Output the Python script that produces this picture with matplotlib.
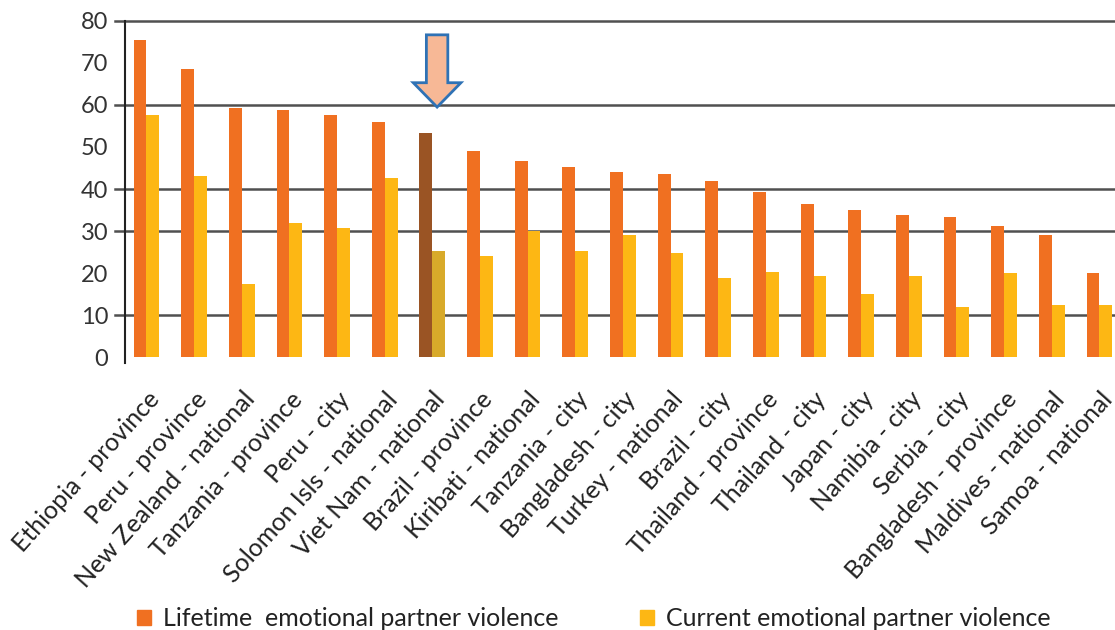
import matplotlib
matplotlib.use("Agg")
import matplotlib.pyplot as plt
import matplotlib.patches as mpatches
import numpy as np

# data
categories = [
    "Ethiopia - province", "Peru - province", "New Zealand - national",
    "Tanzania - province", "Peru - city", "Solomon Isls - national",
    "Viet Nam - national", "Brazil - province", "Kiribati - national",
    "Tanzania - city", "Bangladesh - city", "Turkey - national",
    "Brazil - city", "Thailand - province", "Thailand - city",
    "Japan - city", "Namibia - city", "Serbia - city",
    "Bangladesh - province", "Maldives - national", "Samoa - national",
]
lifetime = [75.4, 68.5, 59.2, 58.8, 57.7, 55.9, 53.3, 49.0, 46.7, 45.3, 44.1,
            43.5, 41.9, 39.2, 36.5, 34.9, 33.7, 33.3, 31.1, 29.0, 19.9]
current = [57.7, 43.2, 17.5, 31.8, 30.7, 42.6, 25.3, 24.1, 30.1, 25.3, 29.0,
           24.8, 18.9, 20.3, 19.3, 14.9, 19.3, 11.8, 19.9, 12.3, 12.3]
series_names = ["Lifetime  emotional partner violence",
                "Current emotional partner violence"]
highlight = "Viet Nam - national"
yticks = [0, 10, 20, 30, 40, 50, 60, 70, 80]
grid_levels = [10, 30, 40, 60, 80]   # only these lines show in the picture
arrow_top, arrow_tip = 76.7, 59.5

ORANGE = '#f07021'
YELLOW = '#fdb714'
ORANGE_HI = '#9a5424'
YELLOW_HI = '#d8aa2a'

plt.rcParams['font.family'] = ['Lato', 'DejaVu Sans']

fig = plt.figure(figsize=(11.15, 6.3), dpi=100)
ax = fig.add_axes([0.1121, 0.4333, 0.8953, 0.5334])

x = np.arange(len(categories))
w = 0.27
hi = categories.index(highlight)
c1 = [ORANGE_HI if i == hi else ORANGE for i in x]
c2 = [YELLOW_HI if i == hi else YELLOW for i in x]

for lvl in grid_levels:
    ax.plot([-0.67, len(categories) + 1], [lvl, lvl], color='#505050',
            lw=1.8, clip_on=False, zorder=1)

ax.bar(x - w / 2, lifetime, w, color=c1, zorder=2)
ax.bar(x + w / 2, current, w, color=c2, zorder=2)

# arrow pointing at Viet Nam
arr = mpatches.FancyArrow(hi + 0.1, arrow_top, 0, arrow_tip - arrow_top,
                          width=0.45, head_width=1.0, head_length=5.8,
                          length_includes_head=True, fc='#f7b896',
                          ec='#2f72b5', lw=2, zorder=4, clip_on=False)
ax.add_patch(arr)

ax.set_xlim(-0.45, len(categories) - 0.5)
ax.set_ylim(0, 80)
ax.set_yticks(yticks)
ax.set_yticklabels([str(v) for v in yticks], fontsize=17, color='#333333')
ax.tick_params(axis='y', length=0, pad=12)
ax.tick_params(axis='x', length=0, pad=22)
ax.set_xticks(x)
ax.set_xticklabels(categories, rotation=48, ha='right', va='top',
                   rotation_mode='anchor', fontsize=18, color='#222222')

for s in ['top', 'right', 'bottom']:
    ax.spines[s].set_visible(False)
ax.spines['left'].set_color('#222222')
ax.spines['left'].set_linewidth(1.5)
ax.spines['left'].set_bounds(-1.5, 80)

handles = [mpatches.Patch(color=ORANGE, label=series_names[0]),
           mpatches.Patch(color=YELLOW, label=series_names[1])]
fig.legend(handles=handles, loc='lower left', bbox_to_anchor=(0.1025, -0.036),
           ncol=2, frameon=False, fontsize=18, handlelength=0.55,
           handleheight=0.55, handletextpad=0.5, columnspacing=3.25,
           labelcolor='#222222')

fig.savefig("out.png", dpi=100)
